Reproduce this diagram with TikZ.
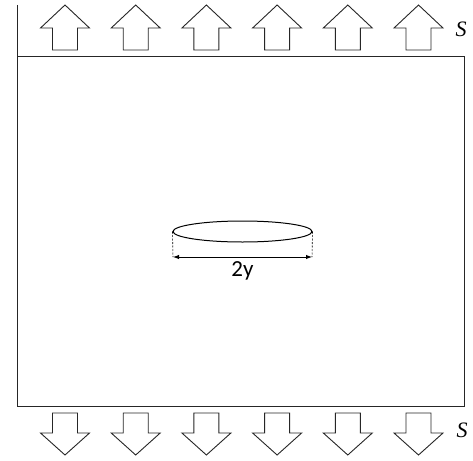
\documentclass[tikz,border=0pt]{standalone}
\usepackage{fontspec}
\setmainfont{Carlito}
\newfontfamily\serifit{Liberation Serif}
\usetikzlibrary{arrows.meta,shapes.geometric}
\tikzset{
  outline/.style={draw=black!85, line width=1pt},
  fatarrow/.style={draw=black!85, line width=0.9pt, fill=white, line join=miter},
  dimline/.style={draw=black, line width=1pt, {Latex[length=6pt,width=4.5pt]}-{Latex[length=6pt,width=4.5pt]}},
  guide/.style={draw=black, line width=0.6pt, dash pattern=on 2pt off 1.5pt},
  stresslabel/.style={font=\fontsize{22}{22}\selectfont\serifit\itshape, inner sep=0pt},
  dimlabel/.style={font=\fontsize{23}{23}\selectfont, inner sep=0pt}
}
\begin{document}
\begin{tikzpicture}[x=1pt,y=-1pt]
\useasboundingbox (0,0) rectangle (473,460);
% plate
\draw[outline] (17.5,5) -- (17.5,406) -- (464,406) -- (464,56.5) -- (17.5,56.5);
% upward arrows (top)
\foreach \i in {0,...,5}{
  \pgfmathsetmacro{\cx}{65+70.7*\i}
  \draw[fatarrow] (\cx,5) -- (\cx+24.5,28) -- (\cx+12.5,28) -- (\cx+12.5,50)
     -- (\cx-12.5,50) -- (\cx-12.5,28) -- (\cx-24.5,28) -- cycle;
}
% downward arrows (bottom)
\foreach \i in {0,...,5}{
  \pgfmathsetmacro{\cx}{65+70.7*\i}
  \draw[fatarrow] (\cx,455) -- (\cx+24.5,433) -- (\cx+12.5,433) -- (\cx+12.5,413)
     -- (\cx-12.5,413) -- (\cx-12.5,433) -- (\cx-24.5,433) -- cycle;
}
\node[stresslabel] (stop) at (461,29.5) {S};
\node[stresslabel] (sbot) at (462,430) {S};
% crack
\node[draw=black, line width=1pt, ellipse, minimum width=139pt, minimum height=21pt, inner sep=0pt] (crack) at (242.5,231.5) {};
\coordinate (dl) at (173,257);
\coordinate (dr) at (312,257);
\draw[guide] (crack.west) -- (dl);
\draw[guide] (crack.east) -- (dr);
\draw[dimline] (dl) -- (dr);
\node[dimlabel] (len) at (242.5,271) {2y};
\end{tikzpicture}
\end{document}
